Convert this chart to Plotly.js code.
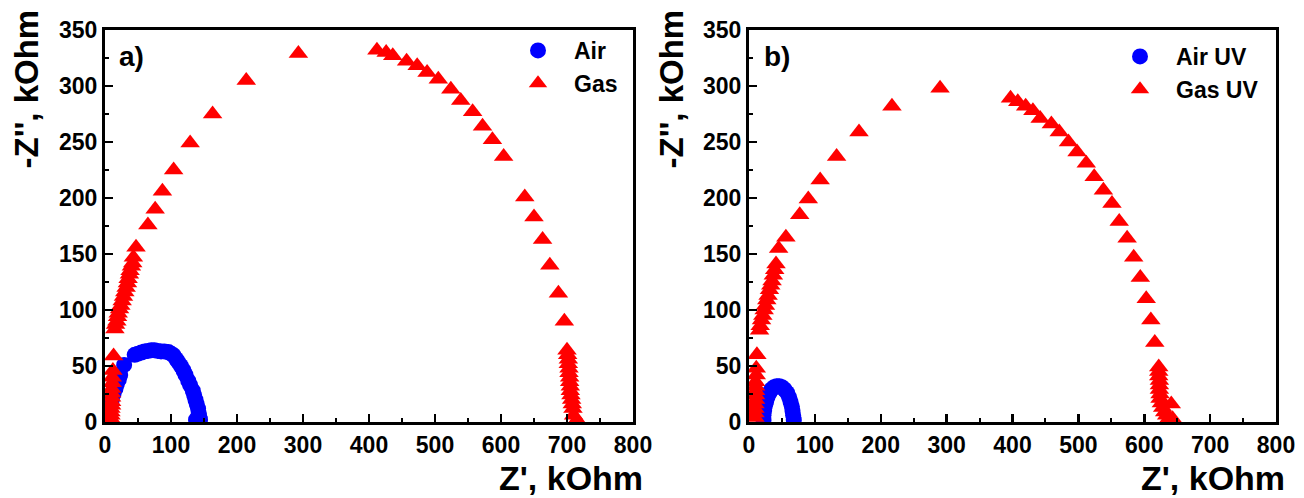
<!DOCTYPE html>
<html>
<head>
<meta charset="utf-8">
<script src="https://cdn.plot.ly/plotly-3.0.1.min.js"></script>
<style>html,body{margin:0;padding:0;background:#fff;}#chart{width:1304px;height:498px;}</style>
</head>
<body>
<div id="chart"></div>
<script>
// Panel a) Air
const airX = [2,5,7,10,13,16,18,21,23,29,45,50,55,60,65,70,75,80,85,90,96,100,104,108,111,115,119,122,126,129,133,135,137,139,141,142,143,144,138,141];
const airY = [3,8,13,19,25,30,34,38,42,51,60,61,62,63,63.5,64,64,63.5,63,63,62.5,61,59.5,56,53.5,50,46,42,37,33,28,24,20,16,12,8,5,2,2,4];
// Panel a) Gas
const gasX = [9,9,9,9,10,10,10,10,10,11,11,12,13,
  15,16,18,19,20,22,24,26,28,30,32,34,35,37,38,40,42,43,47,65,76,87,104,129,163,214,293,
  412,426,436,457,473,488,505,524,539,557,572,587,604,636,650,663,674,687,696,700,
  701,702,702,703,703,704,704,705,705,706,707,708,709,710,715];
const gasY = [3,6,9,12,15,18,22,26,30,35,40,46,59,
  83,87,90,94,97,101,104,108,112,116,120,124,128,132,135,139,142,147,156,176,190,206,225,249,275,305,329,
  332,330,327,322,318,312,306,297,287,277,264,252,237,201,183,163,140,115,90,64,
  60,56,52,48,44,40,36,32,28,24,20,16,12,6,2];
// Panel b) Air UV
const airUvX = [22,22,23,24,26,28,31,34,38,42,46,50,54,58,61,63,65,66,67,68];
const airUvY = [2,6,10,14,18,22,26,29,31,32,32,31,29,26,22,18,14,10,6,2];
// Panel b) Gas UV
const gasUvX = [9,9,9,9,10,10,10,10,10,11,11,12,
  16,17,19,21,23,25,27,29,31,33,35,37,39,41,45,56,77,90,108,133,167,217,290,
  397,408,420,431,442,459,471,485,498,512,524,538,551,562,574,584,594,603,610,616,622,
  622,622,623,623,623,624,624,626,628,631,634,637,641,643];
const gasUvY = [4,8,12,16,20,24,28,32,36,42,48,60,
  82,86,91,95,100,104,109,113,118,122,126,131,136,141,155,165,185,199,216,237,259,282,298,
  289,286,282,278,271,266,259,250,241,231,219,207,195,179,164,147,129,110,91,71,49,
  45,41,37,33,29,25,21,17,13,9,6,3,16,3];

const xTickVals = [0,100,200,300,400,500,600,700,800];
const yTickVals = [0,50,100,150,200,250,300,350];

const F = 'Liberation Sans, Arial, sans-serif';
const BLUE = '#0000ff', RED = '#ff0000';

const traces = [
  {x: airX, y: airY, xaxis:'x', yaxis:'y', mode:'markers', type:'scatter', name:'Air', legend:'legend',
   marker:{symbol:'circle', size:16, color:BLUE}},
  {x: gasX, y: gasY, xaxis:'x', yaxis:'y', mode:'markers', type:'scatter', name:'Gas', legend:'legend',
   marker:{symbol:'triangle-up', size:17, color:RED}},
  {x: airUvX, y: airUvY, xaxis:'x2', yaxis:'y2', mode:'markers', type:'scatter', name:'Air UV', legend:'legend2',
   marker:{symbol:'circle', size:16, color:BLUE}},
  {x: gasUvX, y: gasUvY, xaxis:'x2', yaxis:'y2', mode:'markers', type:'scatter', name:'Gas UV', legend:'legend2',
   marker:{symbol:'triangle-up', size:17, color:RED}}
];

function xax(domain, anchor){
  return {domain: domain, anchor: anchor, range:[0,800], showgrid:false, zeroline:false,
    showline:true, linecolor:'#000', linewidth:3, mirror:true,
    ticks:'inside', ticklen:8, tickwidth:2.5, tickcolor:'#000',
    tickvals: xTickVals, ticktext: xTickVals.map(String),
    minor:{ticks:'inside', ticklen:4, tickwidth:2, tickcolor:'#000', dtick:50},
    tickfont:{family:F, size:23, color:'#000', weight:700}};
}
function yax(domain, anchor){
  return {domain: domain, anchor: anchor, range:[0,350], showgrid:false, zeroline:false,
    showline:true, linecolor:'#000', linewidth:3, mirror:true,
    ticks:'inside', ticklen:8, tickwidth:2.5, tickcolor:'#000',
    tickvals: yTickVals, ticktext: yTickVals.map(String),
    minor:{ticks:'inside', ticklen:4, tickwidth:2, tickcolor:'#000', dtick:25},
    tickfont:{family:F, size:23, color:'#000', weight:700}};
}

const W = 1304, H = 498;
const yDom = [(H-422)/H, (H-30)/H];
const legFont = {family:F, size:23, color:'#000', weight:700};
const layout = {
  width: W, height: H,
  margin:{l:0, r:0, t:0, b:0},
  paper_bgcolor:'#fff', plot_bgcolor:'#fff',
  showlegend:true,
  xaxis: xax([105/W, 633/W], 'y'),
  yaxis: yax(yDom, 'x'),
  xaxis2: xax([749/W, 1276/W], 'y2'),
  yaxis2: yax(yDom, 'x2'),
  legend:{x:502/W, y:(H-29)/H, xanchor:'left', yanchor:'top', bgcolor:'rgba(0,0,0,0)',
    font:legFont, itemwidth:62, tracegroupgap:0},
  legend2:{x:1104/W, y:(H-35)/H, xanchor:'left', yanchor:'top', bgcolor:'rgba(0,0,0,0)',
    font:legFont, itemwidth:62, tracegroupgap:0},
  annotations:[
    {text:'a)', xref:'paper', yref:'paper', x:117/W, y:(H-57)/H, xanchor:'left', yanchor:'middle', showarrow:false,
     font:{family:F, size:28, color:'#000', weight:700}},
    {text:'b)', xref:'paper', yref:'paper', x:762/W, y:(H-57)/H, xanchor:'left', yanchor:'middle', showarrow:false,
     font:{family:F, size:28, color:'#000', weight:700}},
    {text:"Z', kOhm", xref:'paper', yref:'paper', x:645/W, y:(H-478)/H, xanchor:'right', yanchor:'middle', showarrow:false,
     font:{family:F, size:34, color:'#000', weight:700}},
    {text:"Z', kOhm", xref:'paper', yref:'paper', x:1287/W, y:(H-478)/H, xanchor:'right', yanchor:'middle', showarrow:false,
     font:{family:F, size:34, color:'#000', weight:700}},
    {text:"-Z'', kOhm", xref:'paper', yref:'paper', x:26/W, y:(H-8)/H, xanchor:'center', yanchor:'top', textangle:-90, showarrow:false,
     font:{family:F, size:33, color:'#000', weight:700}},
    {text:"-Z'', kOhm", xref:'paper', yref:'paper', x:671/W, y:(H-8)/H, xanchor:'center', yanchor:'top', textangle:-90, showarrow:false,
     font:{family:F, size:33, color:'#000', weight:700}}
  ]
};

Plotly.newPlot('chart', traces, layout, {displayModeBar:false, staticPlot:true});
</script>
</body>
</html>
